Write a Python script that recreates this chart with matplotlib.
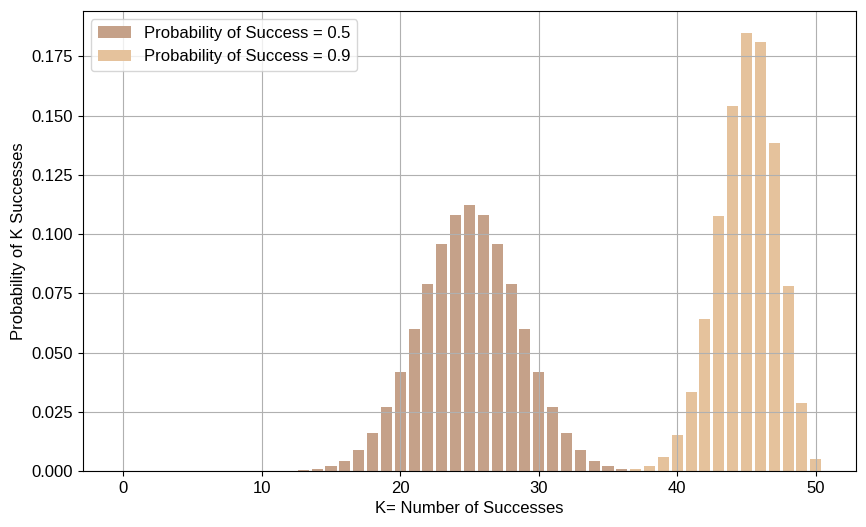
import matplotlib
matplotlib.use('Agg')
import matplotlib.pyplot as plt

plt.rcParams['font.family'] = ['Liberation Sans', 'DejaVu Sans']
plt.rcParams['font.size'] = 12

# number of successes, n = 50 trials
k_values = list(range(0, 51))

# probability of k successes
prob_p05 = [0.0] * 11 + [
    0.0000, 0.0001, 0.0003, 0.0008, 0.0020, 0.0044, 0.0087, 0.0160, 0.0270,  # 11-19
    0.0419, 0.0598, 0.0788, 0.0960, 0.1080, 0.1123, 0.1080, 0.0960, 0.0788,  # 20-28
    0.0598, 0.0419, 0.0270, 0.0160, 0.0087, 0.0044, 0.0020, 0.0008, 0.0003,  # 29-37
    0.0001, 0.0000, 0.0000, 0.0000, 0.0000, 0.0000, 0.0000, 0.0000, 0.0000,  # 38-46
    0.0000, 0.0000, 0.0000, 0.0000,                                          # 47-50
]
prob_p09 = [0.0] * 35 + [
    0.0001, 0.0002, 0.0007, 0.0022, 0.0061,  # 35-39
    0.0152, 0.0333, 0.0643, 0.1076, 0.1541,  # 40-44
    0.1849, 0.1809, 0.1386, 0.0779, 0.0286,  # 45-49
    0.0052,                                  # 50
]

fig = plt.figure(figsize=(8.66, 5.27), dpi=100)
ax = fig.add_axes([0.0953, 0.1063, 0.8937, 0.8727])

ax.bar(k_values, prob_p05, color='#c5a189', label='Probability of Success = 0.5')
ax.bar(k_values, prob_p09, color='#e5c29c', label='Probability of Success = 0.9')

ax.grid(True, color='#b0b0b0')
ax.set_xlabel('K= Number of Successes')
ax.set_ylabel('Probability of K Successes')
ax.legend(loc='upper left')

fig.savefig('out.png')
